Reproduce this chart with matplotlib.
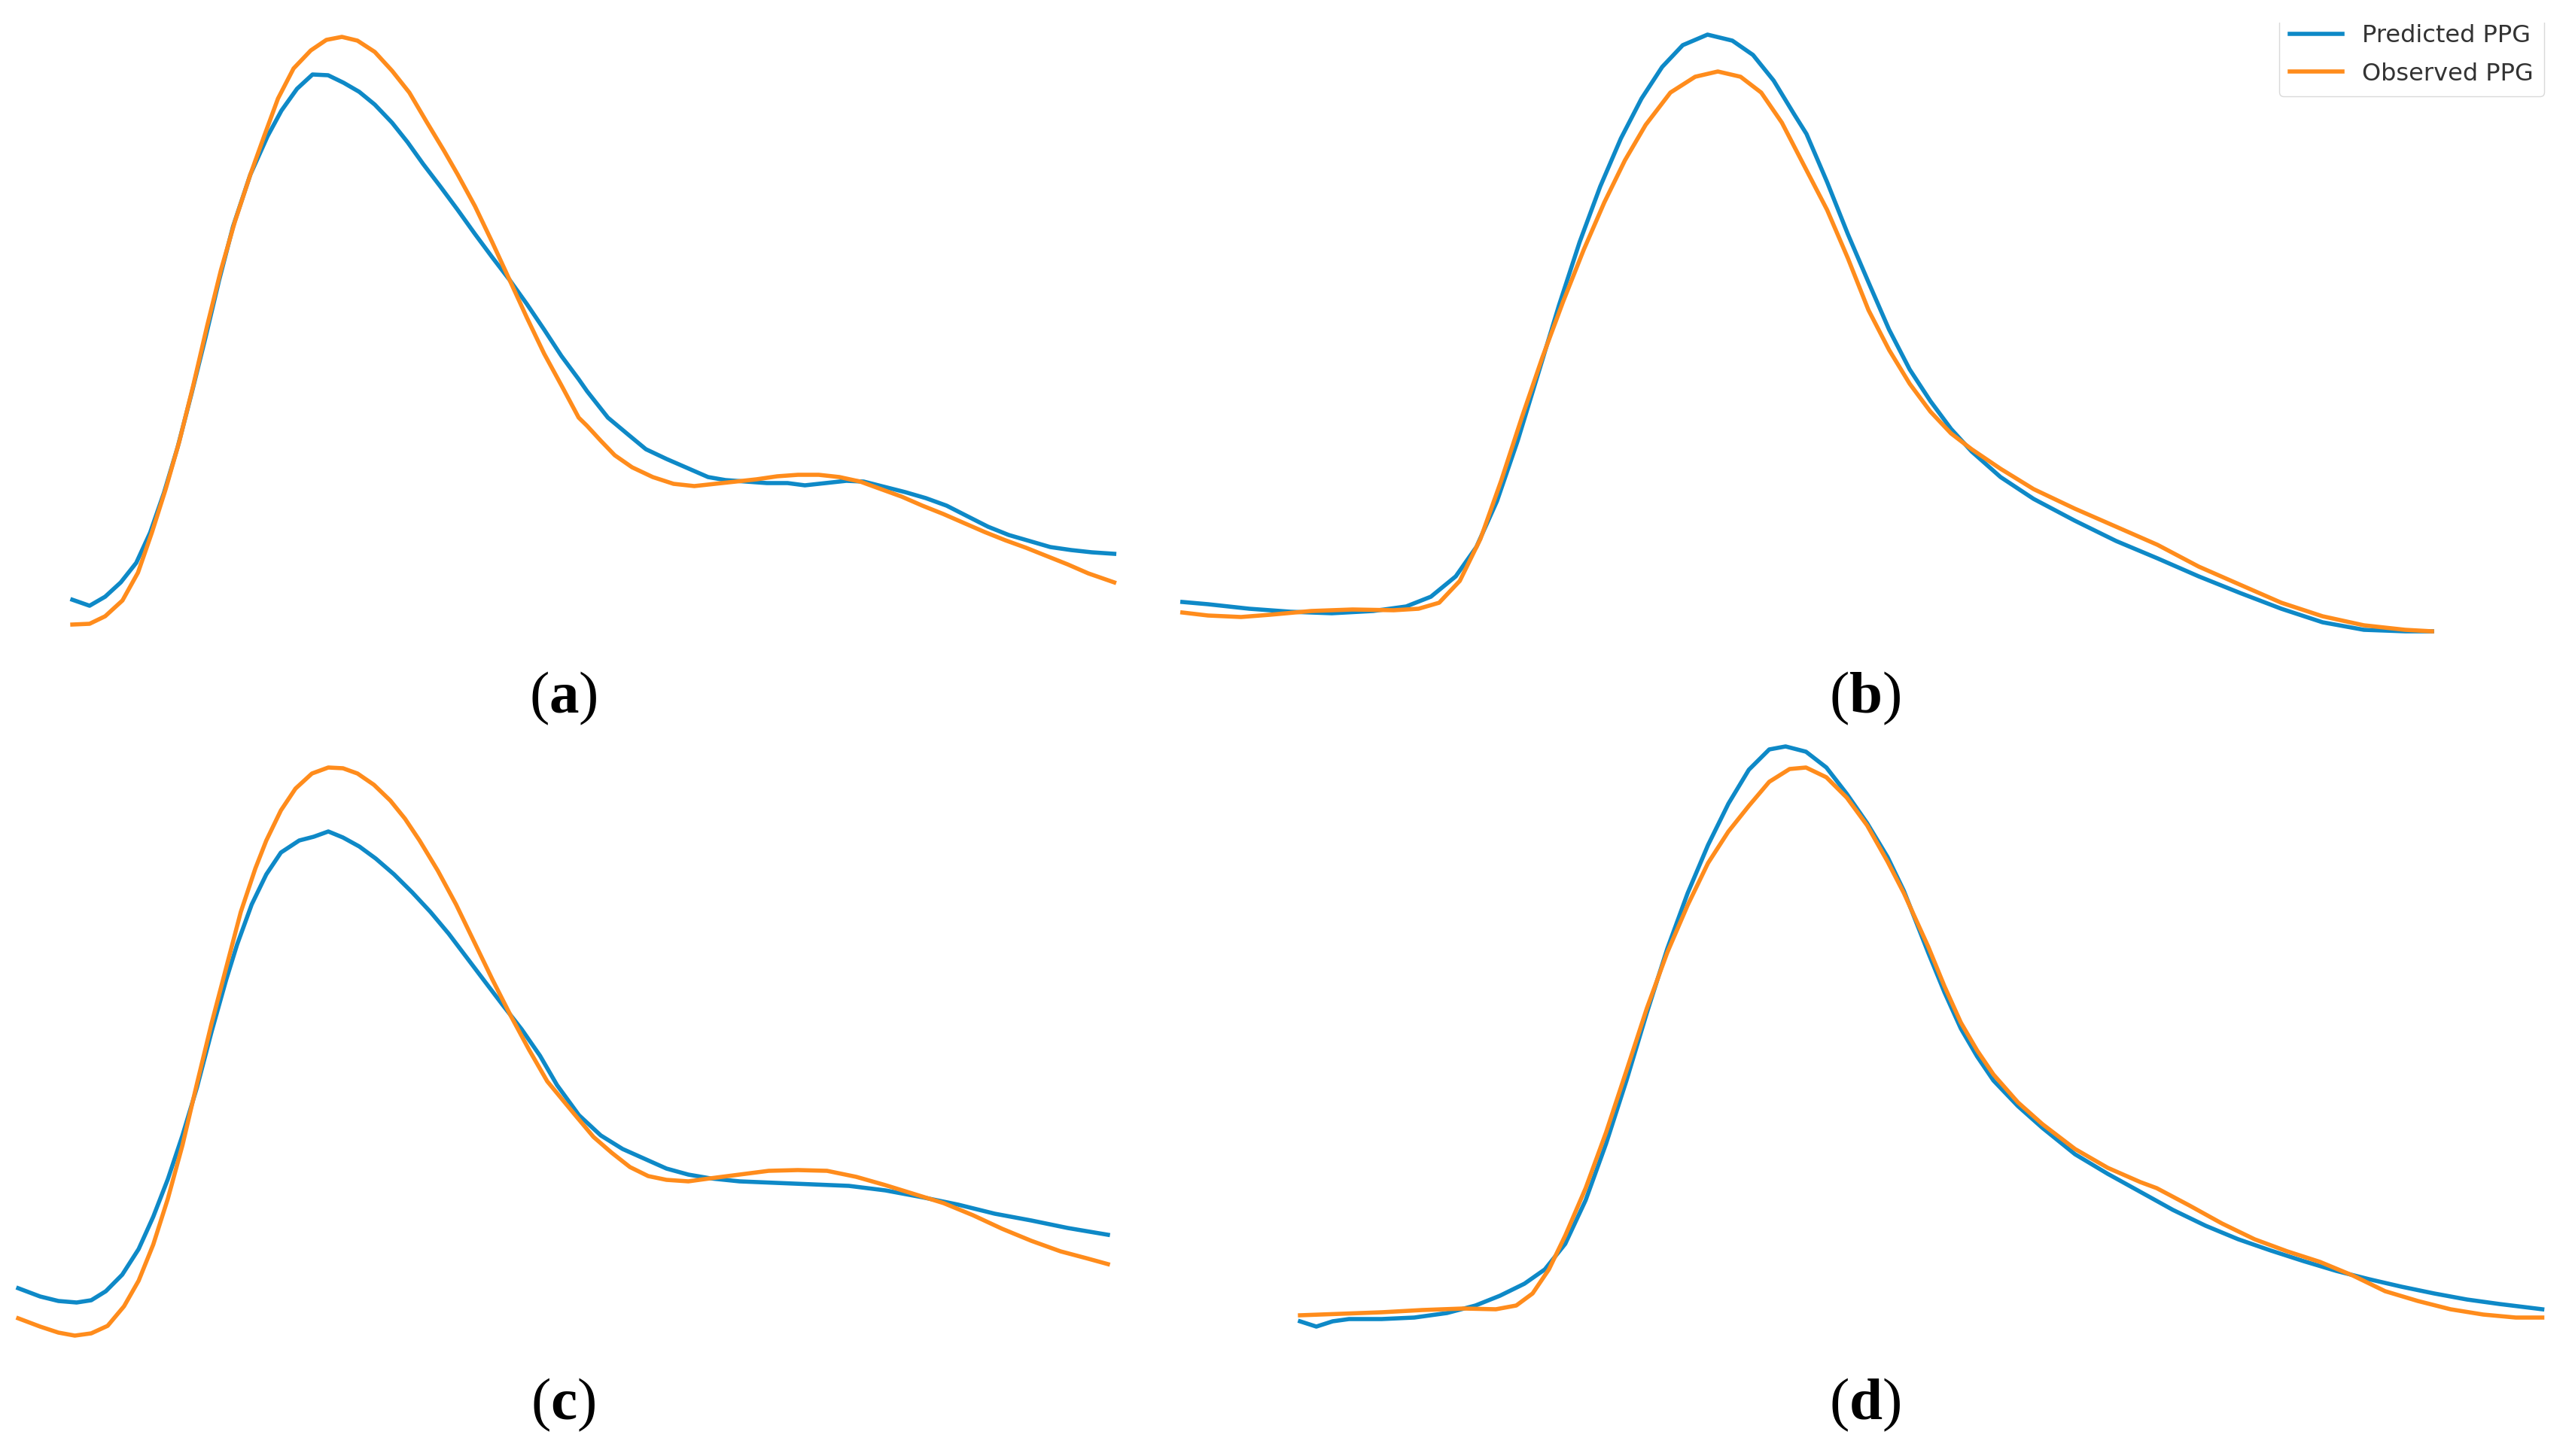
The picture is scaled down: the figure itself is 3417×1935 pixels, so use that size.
import matplotlib
matplotlib.use("Agg")
import matplotlib.pyplot as plt
from matplotlib.lines import Line2D
from matplotlib.patches import Rectangle

# ---------------- data (time in samples/100, amplitude in a.u.) ----------------
# Panel (a)
a_pred_t = [0.161, 0.390, 0.597, 0.804, 1.010, 1.194, 1.378, 1.561, 1.745, 1.929, 2.112, 2.296, 2.526,
            2.755, 2.939, 3.146, 3.352, 3.559, 3.765, 3.972, 4.179, 4.408, 4.615, 4.822, 5.051, 5.281,
            5.510, 5.740, 5.970, 6.199, 6.429, 6.658, 6.888, 7.000, 7.276, 7.551, 7.781, 8.056, 8.332,
            8.607, 8.837, 9.112, 9.388, 9.663, 9.893, 10.168, 10.444, 10.674, 10.949, 11.225, 11.500,
            11.776, 12.051, 12.327, 12.602, 12.878, 13.153, 13.429, 13.704, 14.003]
a_pred_v = [0.53, 0.45, 0.57, 0.76, 1.02, 1.42, 1.95, 2.56, 3.27, 4.01, 4.78, 5.49, 6.18,
            6.69, 7.03, 7.32, 7.51, 7.50, 7.40, 7.28, 7.11, 6.87, 6.61, 6.32, 6.02, 5.71,
            5.39, 5.08, 4.78, 4.46, 4.12, 3.77, 3.46, 3.30, 2.95, 2.72, 2.53, 2.40, 2.28,
            2.16, 2.12, 2.10, 2.08, 2.08, 2.05, 2.08, 2.11, 2.10, 2.03, 1.96, 1.88,
            1.78, 1.64, 1.50, 1.39, 1.31, 1.23, 1.19, 1.16, 1.14]
a_obs_t = [0.161, 0.390, 0.597, 0.827, 1.033, 1.217, 1.401, 1.584, 1.768, 1.952, 2.135, 2.319, 2.526,
           2.709, 2.893, 3.100, 3.329, 3.536, 3.742, 3.949, 4.179, 4.408, 4.638, 4.868, 5.097, 5.281,
           5.510, 5.740, 5.970, 6.199, 6.429, 6.658, 6.888, 7.000, 7.184, 7.367, 7.597, 7.872, 8.148,
           8.424, 8.699, 8.975, 9.250, 9.526, 9.801, 10.077, 10.352, 10.628, 10.903, 11.179, 11.454,
           11.730, 12.005, 12.281, 12.556, 12.832, 13.107, 13.383, 13.658, 14.003]
a_obs_v = [0.20, 0.21, 0.31, 0.52, 0.89, 1.42, 2.00, 2.64, 3.38, 4.17, 4.91, 5.55, 6.18,
           6.69, 7.19, 7.59, 7.83, 7.97, 8.01, 7.96, 7.81, 7.56, 7.27, 6.88, 6.50, 6.18,
           5.76, 5.28, 4.78, 4.28, 3.80, 3.38, 2.95, 2.84, 2.64, 2.45, 2.29, 2.16, 2.07,
           2.04, 2.07, 2.10, 2.13, 2.17, 2.19, 2.19, 2.16, 2.10, 2.00, 1.90, 1.78,
           1.67, 1.55, 1.43, 1.32, 1.22, 1.11, 1.00, 0.88, 0.76]

# Panel (b)
b_pred_t = [0.208, 0.549, 1.097, 1.646, 2.194, 2.743, 3.181, 3.510, 3.840, 4.114, 4.388, 4.662, 4.937,
            5.211, 5.485, 5.759, 6.034, 6.308, 6.582, 6.856, 7.185, 7.515, 7.789, 8.063, 8.337, 8.500,
            8.774, 9.049, 9.323, 9.597, 9.871, 10.146, 10.420, 10.694, 11.078, 11.517, 12.065, 12.614,
            13.162, 13.711, 14.259, 14.808, 15.356, 15.905, 16.453, 16.810]
b_pred_v = [0.50, 0.47, 0.41, 0.37, 0.35, 0.38, 0.44, 0.57, 0.84, 1.23, 1.84, 2.64, 3.54,
            4.44, 5.28, 6.02, 6.66, 7.19, 7.61, 7.90, 8.04, 7.96, 7.77, 7.43, 6.98, 6.72,
            6.08, 5.39, 4.75, 4.12, 3.59, 3.17, 2.80, 2.50, 2.16, 1.87, 1.58, 1.31,
            1.08, 0.84, 0.62, 0.41, 0.23, 0.13, 0.11, 0.11]
b_obs_t = [0.208, 0.549, 0.987, 1.371, 1.920, 2.468, 3.017, 3.346, 3.620, 3.894, 4.169, 4.443, 4.717,
           4.991, 5.266, 5.540, 5.814, 6.088, 6.363, 6.692, 7.021, 7.322, 7.624, 7.898, 8.173, 8.447,
           8.774, 9.049, 9.323, 9.597, 9.871, 10.146, 10.420, 10.694, 11.078, 11.517, 12.065, 12.614,
           13.162, 13.711, 14.259, 14.808, 15.356, 15.905, 16.453, 16.810]
b_obs_v = [0.36, 0.32, 0.30, 0.33, 0.38, 0.40, 0.39, 0.41, 0.49, 0.78, 1.34, 2.11, 2.95,
           3.75, 4.49, 5.18, 5.81, 6.37, 6.84, 7.27, 7.48, 7.55, 7.48, 7.27, 6.87, 6.34,
           5.71, 5.07, 4.38, 3.85, 3.40, 3.03, 2.74, 2.53, 2.27, 2.00, 1.74, 1.50,
           1.26, 0.97, 0.73, 0.49, 0.31, 0.19, 0.13, 0.11]

# Panel (c)
c_pred_t = [0.242, 0.533, 0.776, 1.018, 1.212, 1.406, 1.624, 1.842, 2.036, 2.230, 2.424, 2.617, 2.811,
            3.005, 3.151, 3.344, 3.538, 3.732, 3.975, 4.168, 4.362, 4.556, 4.774, 4.992, 5.235, 5.477,
            5.719, 5.962, 6.204, 6.446, 6.689, 6.931, 7.174, 7.400, 7.691, 7.982, 8.272, 8.563, 8.854,
            9.145, 9.436, 9.824, 10.308, 10.793, 11.278, 11.762, 12.247, 12.732, 13.216, 13.701,
            14.186, 14.719]
c_pred_v = [1.08, 0.97, 0.91, 0.89, 0.92, 1.04, 1.26, 1.60, 2.03, 2.53, 3.11, 3.75, 4.49,
            5.18, 5.65, 6.18, 6.58, 6.87, 7.03, 7.08, 7.15, 7.07, 6.95, 6.79, 6.58, 6.34,
            6.08, 5.79, 5.47, 5.15, 4.83, 4.52, 4.17, 3.78, 3.38, 3.11, 2.93, 2.80, 2.67,
            2.59, 2.54, 2.50, 2.48, 2.46, 2.44, 2.38, 2.29, 2.19, 2.07, 1.98,
            1.88, 1.79]
c_obs_t = [0.242, 0.533, 0.776, 0.994, 1.212, 1.430, 1.648, 1.842, 2.036, 2.230, 2.424, 2.617, 2.811,
           3.005, 3.199, 3.393, 3.538, 3.732, 3.926, 4.144, 4.362, 4.556, 4.750, 4.968, 5.186, 5.380,
           5.574, 5.816, 6.059, 6.301, 6.543, 6.786, 7.028, 7.270, 7.642, 7.885, 8.127, 8.369, 8.612,
           8.854, 9.145, 9.436, 9.824, 10.212, 10.600, 10.987, 11.375, 11.762, 12.150, 12.538,
           12.926, 13.313, 13.701, 14.089, 14.428, 14.719]
c_obs_v = [0.68, 0.57, 0.49, 0.45, 0.48, 0.58, 0.84, 1.18, 1.66, 2.27, 2.98, 3.80, 4.60,
           5.34, 6.08, 6.66, 7.03, 7.43, 7.72, 7.92, 8.00, 7.99, 7.92, 7.77, 7.56, 7.32,
           7.03, 6.63, 6.18, 5.68, 5.18, 4.70, 4.25, 3.83, 3.38, 3.09, 2.88, 2.69, 2.57,
           2.52, 2.50, 2.54, 2.59, 2.64, 2.65, 2.64, 2.56, 2.45, 2.33, 2.21,
           2.05, 1.87, 1.71, 1.57, 1.48, 1.40]

# Panel (d)
d_pred_t = [0.271, 0.488, 0.705, 0.922, 1.355, 1.789, 2.223, 2.602, 2.927, 3.253, 3.524, 3.795, 4.066,
            4.337, 4.608, 4.879, 5.150, 5.421, 5.692, 5.963, 6.234, 6.505, 6.722, 6.993, 7.264, 7.535,
            7.806, 8.077, 8.294, 8.617, 8.834, 9.051, 9.267, 9.484, 9.809, 10.135, 10.568, 11.002,
            11.436, 11.869, 12.303, 12.737, 13.170, 13.604, 14.038, 14.472, 14.905, 15.339, 15.773,
            16.206, 16.775]
d_pred_v = [0.44, 0.37, 0.44, 0.47, 0.47, 0.49, 0.55, 0.65, 0.78, 0.94, 1.13, 1.47, 2.05,
            2.80, 3.64, 4.54, 5.39, 6.13, 6.77, 7.32, 7.77, 8.04, 8.08, 8.01, 7.80, 7.45,
            7.06, 6.61, 6.16, 5.34, 4.81, 4.33, 3.96, 3.64, 3.30, 3.01, 2.66, 2.40,
            2.16, 1.92, 1.71, 1.53, 1.38, 1.24, 1.11, 1.00, 0.90, 0.81, 0.73,
            0.67, 0.60]
d_obs_t = [0.271, 0.813, 1.355, 1.897, 2.439, 2.873, 3.144, 3.361, 3.578, 3.795, 4.066, 4.337, 4.608,
           4.879, 5.150, 5.421, 5.692, 5.963, 6.234, 6.505, 6.776, 6.993, 7.264, 7.535, 7.806, 8.077,
           8.294, 8.617, 8.834, 9.051, 9.267, 9.484, 9.809, 10.135, 10.568, 11.002, 11.436, 11.652,
           12.086, 12.520, 12.954, 13.387, 13.821, 14.255, 14.688, 15.122, 15.556, 15.990, 16.423,
           16.775]
d_obs_v = [0.52, 0.54, 0.56, 0.59, 0.61, 0.60, 0.65, 0.81, 1.13, 1.58, 2.21, 2.95, 3.77,
           4.60, 5.34, 5.97, 6.53, 6.95, 7.29, 7.61, 7.78, 7.80, 7.67, 7.40, 7.03, 6.55,
           6.13, 5.42, 4.89, 4.41, 4.04, 3.72, 3.35, 3.06, 2.73, 2.48, 2.29, 2.21,
           1.98, 1.74, 1.53, 1.37, 1.23, 1.05, 0.84, 0.71, 0.60, 0.53, 0.49,
           0.49]

panel_labels = ["a", "b", "c", "d"]
series_names = ["Predicted PPG", "Observed PPG"]

# ---------------- styling / layout ----------------
W, H = 3417, 1935
DPI = 100
BLUE = "#0e89c7"
ORANGE = "#ff8c1c"
LW = 4.0

plt.rcParams["mathtext.fontset"] = "custom"
plt.rcParams["mathtext.bf"] = "Liberation Serif:bold"
plt.rcParams["mathtext.rm"] = "Liberation Serif"

fig = plt.figure(figsize=(W / DPI, H / DPI), dpi=DPI)
fig.patch.set_facecolor("white")


def px_axes(x0, y0, w, h):
    """axes placed by full-resolution pixel box (top-left origin)"""
    return fig.add_axes([x0 / W, 1 - (y0 + h) / H, w / W, h / H])


panels = [
    # (pixel box, xlim, pred_t, pred_v, obs_t, obs_v)
    ((80, 20, 1400, 830), 14.0, a_pred_t, a_pred_v, a_obs_t, a_obs_v),
    ((1550, 20, 1700, 830), 17.0, b_pred_t, b_pred_v, b_obs_t, b_obs_v),
    ((0, 990, 1500, 830), 15.0, c_pred_t, c_pred_v, c_obs_t, c_obs_v),
    ((1700, 970, 1700, 830), 17.0, d_pred_t, d_pred_v, d_obs_t, d_obs_v),
]

for box, xmax, pt, pv, ot, ov in panels:
    ax = px_axes(*box)
    ax.plot(pt, pv, color=BLUE, lw=LW, solid_joinstyle="round", clip_on=False)
    ax.plot(ot, ov, color=ORANGE, lw=LW, solid_joinstyle="round", clip_on=False)
    ax.set_xlim(0, xmax)
    ax.set_ylim(0, 8.3)
    ax.axis("off")

# panel labels: regular parentheses, bold letter
label_pos = [(748, 928), (2478, 928), (748, 1867), (2478, 1867)]
for lab, (x, y) in zip(panel_labels, label_pos):
    fig.text(x / W, 1 - y / H, "(" + r"$\mathbf{" + lab + "}$" + ")",
             family="Liberation Serif", fontweight="normal", fontsize=57,
             ha="center", va="center")

# legend
handles = [Line2D([], [], color=BLUE, lw=LW), Line2D([], [], color=ORANGE, lw=LW)]
leg = fig.legend(handles, series_names, loc="lower right",
                 bbox_to_anchor=(3380 / W, 1 - 128 / H),
                 fontsize=23, frameon=True, fancybox=True, framealpha=1.0,
                 edgecolor="0.85", handlelength=2.2, handletextpad=0.8,
                 borderpad=0.45, labelspacing=0.6, borderaxespad=0.0)
for t in leg.get_texts():
    t.set_color("#333333")

# the top strip of the image is blank (legend frame cut at top)
fig.add_artist(Rectangle((0, 1 - 30 / H), 1, 30 / H, transform=fig.transFigure,
                         facecolor="white", edgecolor="none", zorder=20))

fig.savefig("out.png", dpi=DPI, facecolor="white")
